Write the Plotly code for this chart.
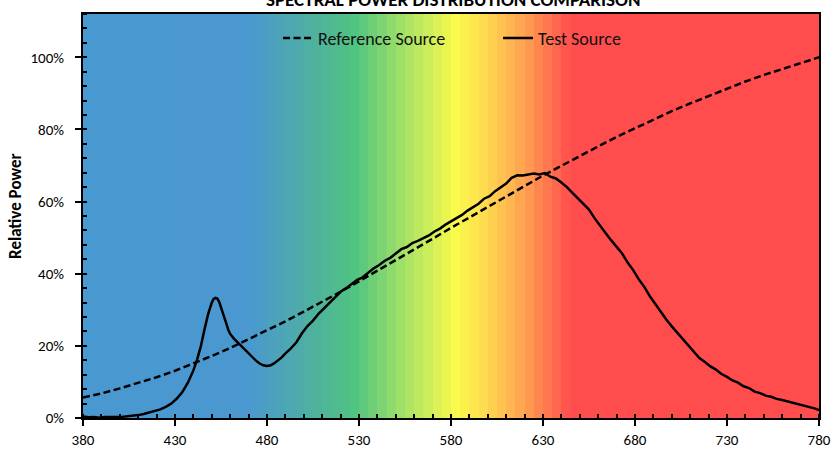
import numpy as np
import plotly.graph_objects as go

# ---------------- data ----------------
ref_wl = [380, 390, 400, 410, 420, 430, 440, 450, 460, 470, 480, 490, 500, 510, 520,
          530, 540, 550, 560, 570, 580, 590, 600, 610, 620, 630, 640, 650, 660, 670,
          680, 690, 700, 710, 720, 730, 740, 750, 760, 770, 780]
ref_power = [5.7, 6.8, 8.2, 9.7, 11.3, 13.1, 15.1, 17.2, 19.4, 21.8, 24.2, 26.8, 29.5,
             32.2, 35.0, 37.9, 40.8, 43.8, 46.8, 49.7, 52.7, 55.6, 58.6, 61.5, 64.4,
             67.2, 69.9, 72.7, 75.3, 77.9, 80.3, 82.7, 85.1, 87.2, 89.3, 91.3, 93.3,
             95.1, 96.8, 98.4, 100.0]

test_wl = [380, 383, 386, 389, 392, 395, 398, 401, 404, 407, 410, 413, 416, 419, 422, 425,
           428, 431, 434, 437, 440, 442, 444, 446, 448, 450, 451, 452, 453, 454, 455, 456,
           457, 458, 459, 460, 462, 464, 466, 468, 470, 472, 474, 476, 478, 480, 482, 484,
           486, 488, 490, 493, 496, 499, 502, 505, 508, 511, 514, 517, 520, 523, 526, 529,
           532, 535, 538, 541, 544, 547, 550, 553, 556, 559, 562, 565, 568, 571, 574, 577,
           580, 583, 586, 589, 592, 595, 598, 601, 604, 607, 610, 613, 616, 619, 622, 625,
           628, 631, 634, 637, 640, 643, 646, 649, 652, 655, 658, 661, 664, 667, 670, 673,
           676, 679, 682, 685, 688, 691, 694, 697, 700, 703, 706, 709, 712, 715, 718, 721,
           724, 727, 730, 733, 736, 739, 742, 745, 748, 751, 754, 757, 760, 763, 766, 769,
           772, 775, 778, 780]
test_power = [0.4, 0.2, 0.3, 0.1, 0.3, 0.2, 0.3, 0.3, 0.4, 0.6, 0.8, 1.1, 1.5, 1.9, 2.4, 3.1,
              4.0, 5.4, 7.2, 9.8, 13.2, 16.2, 19.8, 24.5, 28.8, 32.0, 33.0, 33.3, 33.1, 32.2, 30.8, 29.0,
              27.8, 26.0, 24.4, 23.3, 22.0, 21.0, 20.0, 19.0, 17.8, 16.8, 15.9, 15.1, 14.6, 14.4, 14.6, 15.2,
              15.9, 16.8, 17.9, 19.3, 21.0, 23.5, 25.5, 27.0, 28.9, 30.4, 32.0, 33.4, 35.0, 36.0, 37.2, 38.3,
              39.0, 40.2, 41.5, 42.4, 43.6, 44.4, 45.5, 46.8, 47.4, 48.5, 49.1, 49.9, 50.6, 51.7, 52.5, 53.6,
              54.5, 55.6, 56.3, 57.5, 58.4, 59.4, 60.8, 61.5, 62.9, 64.0, 65.0, 66.6, 67.3, 67.2, 67.6, 67.8,
              67.5, 67.9, 66.9, 66.4, 65.3, 64.0, 62.4, 60.9, 59.4, 57.8, 55.4, 53.2, 51.3, 49.3, 47.6, 45.6,
              43.1, 41.0, 38.5, 36.4, 33.8, 31.6, 29.5, 27.3, 25.4, 23.6, 21.8, 20.0, 18.2, 16.6, 15.5, 14.3,
              13.4, 12.2, 11.4, 10.4, 9.8, 8.8, 8.3, 7.3, 6.9, 6.2, 5.9, 5.3, 5.0, 4.6, 4.4, 3.8,
              3.5, 3.0, 2.6, 2.2]

x_ticks = [380, 430, 480, 530, 580, 630, 680, 730, 780]
y_ticks = [0, 20, 40, 60, 80, 100]
y_tick_labels = ["0%", "20%", "40%", "60%", "80%", "100%"]

# ---------------- styles ----------------
bg_stops_wl = [380, 470, 500, 528, 555, 583, 600, 620, 645, 780]
bg_stops_col = ["#4A98D0", "#4B98D0", "#4EADA6", "#50C480", "#A6E266",
                "#FAFA4B", "#FFD750", "#FFA050", "#FF4D4D", "#FF4D4D"]
FONT = "Carlito, Calibri, Lato, 'Open Sans', sans-serif"

wl_min, wl_max = x_ticks[0], x_ticks[-1]
y_max = 112

colorscale = [[(w - wl_min) / (wl_max - wl_min), c] for w, c in zip(bg_stops_wl, bg_stops_col)]
band_edges = np.arange(wl_min, wl_max + 1, 5)
band_centers = (band_edges[:-1] + band_edges[1:]) / 2

fig = go.Figure()
fig.add_trace(go.Heatmap(
    x=band_edges, y=[0, y_max], z=[band_centers],
    colorscale=colorscale, zmin=wl_min, zmax=wl_max,
    showscale=False, hoverinfo="skip", zsmooth=False, showlegend=False,
))
fig.add_trace(go.Scatter(
    x=ref_wl, y=ref_power, mode="lines", name="Reference Source",
    line=dict(color="black", width=2.5, dash="7px,3.5px"),
))
fig.add_trace(go.Scatter(
    x=test_wl, y=test_power, mode="lines", name="Test Source",
    line=dict(color="black", width=2.5),
))

fig.update_layout(
    width=834, height=449,
    margin=dict(l=83, r=15, t=14, b=31, autoexpand=False),
    paper_bgcolor="white", plot_bgcolor="white",
    font=dict(family=FONT, size=15, color="black"),
    showlegend=True,
    legend=dict(orientation="h", x=0.265, xanchor="left", y=0.94, yanchor="middle",
                bgcolor="rgba(0,0,0,0)", font=dict(size=18, family=FONT, color="#111111"),
                traceorder="normal", entrywidth=175, entrywidthmode="pixels"),
    annotations=[
        dict(text="<b>SPECTRAL POWER DISTRIBUTION COMPARISON</b>",
             xref="paper", yref="paper", x=0.503, y=1.037,
             xanchor="center", yanchor="middle", showarrow=False,
             font=dict(size=19, family=FONT, color="black")),
        dict(text="<b>Relative Power</b>", textangle=-90,
             xref="paper", yref="paper", x=-0.091, y=0.525,
             xanchor="center", yanchor="middle", showarrow=False,
             font=dict(size=17, family=FONT, color="black")),
    ],
)
fig.update_xaxes(
    range=[wl_min, wl_max], tickvals=x_ticks, showgrid=False, zeroline=False,
    showline=True, linecolor="black", linewidth=2, mirror=True, automargin=False,
    ticks="outside", ticklen=6, tickwidth=1.5, tickcolor="black", ticklabelstandoff=1,
    minor=dict(ticks="inside", dtick=10, tick0=380, ticklen=4, tickwidth=1.5, tickcolor="black", showgrid=False),
    tickfont=dict(size=15),
)
fig.update_yaxes(
    range=[0, y_max], tickvals=y_ticks, ticktext=y_tick_labels, showgrid=False, zeroline=False,
    showline=True, linecolor="black", linewidth=2, mirror=True, automargin=False,
    ticks="outside", ticklen=6, tickwidth=1.5, tickcolor="black", ticklabelstandoff=8,
    minor=dict(ticks="inside", dtick=4, tick0=0, ticklen=4, tickwidth=1.5, tickcolor="black", showgrid=False),
    tickfont=dict(size=15),
)

fig.write_html(
    "out.html",
    config={"displayModeBar": False},
    post_script="document.body.style.margin='0';document.body.style.overflow='hidden';",
)
